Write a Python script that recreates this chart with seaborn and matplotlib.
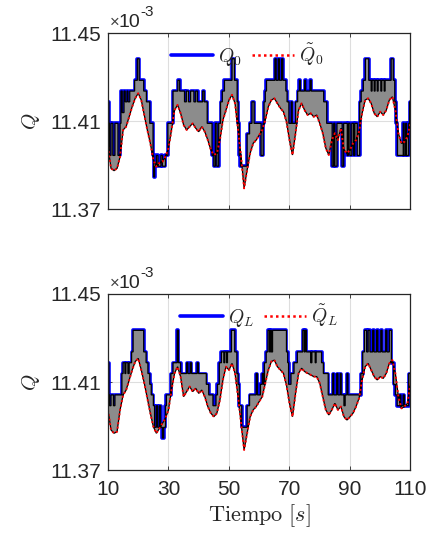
import numpy as np
import matplotlib
matplotlib.use("Agg")
import matplotlib.pyplot as plt
import seaborn as sns

# Quantised flow levels (units of 1e-3)
A, B, C, D = 11.4384, 11.4335, 11.4286, 11.4237
E, F, G, H = 11.4188, 11.4139, 11.4090, 11.4042
I, J, K, L = 11.3993, 11.3944, 11.3895, 11.3846

# Measured flow Q_0: switching instants [s] and held levels
q0_t = [10.0, 10.3, 10.5, 11.0, 11.6, 12.3, 13.3, 14.0, 14.3, 14.7, 15.3, 15.7, 16.3, 16.6,
        17.2, 18.8, 19.7, 20.3, 21.8, 22.7, 23.8, 24.9, 25.1, 25.4, 26.0, 26.5, 27.5, 28.0,
        29.0, 29.8, 31.5, 33.1, 33.7, 35.3, 35.9, 36.6, 37.3, 38.4, 39.0, 39.6, 41.3, 41.8,
        42.8, 44.4, 45.0, 45.5, 46.0, 46.6, 47.2, 47.8, 48.5, 51.0, 51.8, 52.7, 53.0, 53.4,
        53.8, 56.0, 56.8, 57.6, 58.3, 59.3, 60.6, 61.3, 61.6, 62.0, 62.4, 65.2, 65.6, 66.3,
        66.7, 67.4, 67.8, 68.8, 69.2, 69.8, 70.6, 70.9, 72.0, 72.7, 73.3, 73.6, 75.0, 75.3,
        76.8, 77.2, 81.3, 82.3, 84.1, 84.6, 85.0, 85.7, 87.4, 87.9, 89.1, 89.5, 90.0, 90.6,
        91.2, 91.6, 92.4, 93.2, 93.7, 94.4, 95.1, 96.2, 97.0, 97.3, 98.0, 98.3, 99.0, 99.3,
        100.2, 100.5, 101.3, 101.6, 103.6, 104.3, 104.8, 105.2, 105.7, 107.6, 107.9, 108.4,
        108.7, 109.4, 109.7, 110.0]
q0_v = [E, G, J, G, J, G, J, G, D, F, D, E, D, E,
        D, C, A, C, D, E, G, J, L, K, J, K, J, K,
        J, G, D, C, D, E, D, E, D, E, D, E, D, E,
        G, J, K, G, K, G, E, D, C, A, C, E, G, J,
        K, H, G, E, G, G, J, G, E, D, C, A, C, A,
        C, A, C, D, E, G, E, G, E, D, C, D, C, D,
        C, D, E, G, K, G, K, G, K, G, J, G, J, G,
        J, G, J, E, D, C, A, C, D, C, D, C, D, C,
        D, C, D, C, A, C, E, G, J, G, J, G,
        J, G, E, E]

# Estimated flow ~Q_0, one sample per second from 10 s to 110 s
q0_est = [11.3984, 11.3885, 11.3875, 11.3885, 11.3938, 11.4060, 11.4075, 11.4120, 11.4166, 11.4204,
          11.4227, 11.4196, 11.4128, 11.4060, 11.3999, 11.3923, 11.3893, 11.3910, 11.3915, 11.3939,
          11.3977, 11.4060, 11.4150, 11.4174, 11.4136, 11.4083, 11.4060, 11.4075, 11.4090, 11.4068,
          11.4052, 11.4075, 11.4052, 11.4014, 11.3969, 11.3946, 11.3954, 11.4014, 11.4105, 11.4150,
          11.4196, 11.4220, 11.4181, 11.4060, 11.3938, 11.3794, 11.3878, 11.3954, 11.3999, 11.4014,
          11.4037, 11.4060, 11.4105, 11.4166, 11.4196, 11.4204, 11.4181, 11.4159, 11.4143, 11.4098,
          11.4014, 11.3946, 11.4045, 11.4150, 11.4181, 11.4150, 11.4128, 11.4136, 11.4120, 11.4128,
          11.4090, 11.4045, 11.3977, 11.3946, 11.4014, 11.4045, 11.4014, 11.4068, 11.3969, 11.3954,
          11.3969, 11.3999, 11.4014, 11.4052, 11.4136, 11.4196, 11.4204, 11.4181, 11.4136, 11.4120,
          11.4143, 11.4128, 11.4150, 11.4196, 11.4211, 11.4150, 11.4045, 11.3999, 11.4006, 11.4030,
          11.4090]

# Measured flow Q_L: switching instants [s] and held levels
ql_t = [10.0, 10.3, 10.5, 11.0, 11.8, 12.3, 14.6, 15.0, 15.6, 15.9, 16.6, 17.0, 17.8, 18.3,
        21.8, 22.6, 23.2, 23.8, 24.3, 25.0, 25.4, 26.0, 26.4, 27.0, 27.4, 28.0, 28.4, 29.0,
        29.3, 30.8, 31.5, 32.9, 33.3, 34.0, 36.0, 36.4, 37.2, 37.6, 39.5, 39.9, 42.5, 43.3,
        44.7, 45.7, 46.2, 46.8, 47.5, 48.3, 48.6, 49.2, 49.5, 50.8, 51.9, 52.6, 53.0, 53.4,
        54.2, 56.0, 56.8, 59.0, 59.4, 60.4, 61.0, 61.4, 61.7, 62.3, 62.9, 63.4, 63.7, 64.0,
        64.4, 69.0, 69.4, 69.7, 70.5, 71.5, 72.6, 74.4, 74.9, 75.2, 75.6, 77.0, 77.4, 78.5,
        78.8, 80.6, 81.2, 82.8, 84.3, 84.6, 85.6, 86.0, 86.8, 87.1, 88.0, 88.4, 89.0, 89.3,
        93.6, 94.2, 94.8, 95.5, 96.0, 96.6, 97.5, 97.9, 98.8, 99.2, 100.2, 100.6, 101.8, 102.2,
        103.0, 103.7, 104.4, 105.0, 105.6, 106.4, 106.8, 107.6, 108.0, 109.4, 110.0]
ql_v = [E, H, I, H, I, H, F, E, F, E, F, E, D, B,
        D, E, F, G, H, I, K, I, K, I, K, L, K, I,
        H, F, E, B, E, F, E, F, E, F, E, F, G, H,
        I, H, G, E, D, E, D, E, D, B, D, F, G, I,
        K, I, H, F, H, G, F, G, E, D, B, D, B, D,
        B, D, E, G, F, E, D, B, D, B, D, E, D, E,
        D, E, F, H, F, H, F, H, F, H, I, H, F, H,
        F, D, B, D, B, D, B, D, B, D, B, D, B, D,
        B, E, G, H, I, H, I, H, I, F, F]

# Estimated flow ~Q_L, one sample per second from 10 s to 110 s
ql_est = [11.3974, 11.3883, 11.3868, 11.3875, 11.3974, 11.4042, 11.4064, 11.4109, 11.4155, 11.4193,
          11.4208, 11.4155, 11.4095, 11.4027, 11.3959, 11.3898, 11.3868, 11.3890, 11.3913, 11.3936,
          11.3974, 11.4064, 11.4140, 11.4170, 11.4125, 11.4034, 11.4057, 11.4080, 11.4057, 11.4072,
          11.4049, 11.4064, 11.4034, 11.3989, 11.3959, 11.3943, 11.3959, 11.4019, 11.4110, 11.4170,
          11.4155, 11.4185, 11.4140, 11.4034, 11.3913, 11.3792, 11.3868, 11.3943, 11.3974, 11.3989,
          11.4012, 11.4034, 11.4095, 11.4155, 11.4193, 11.4200, 11.4170, 11.4155, 11.4140, 11.4087,
          11.4004, 11.3943, 11.4049, 11.4140, 11.4163, 11.4148, 11.4140, 11.4133, 11.4125, 11.4125,
          11.4095, 11.4034, 11.3974, 11.3951, 11.3974, 11.4004, 11.3974, 11.3989, 11.3943, 11.3928,
          11.3943, 11.3959, 11.3989, 11.4027, 11.4110, 11.4170, 11.4185, 11.4155, 11.4125, 11.4110,
          11.4125, 11.4117, 11.4140, 11.4185, 11.4200, 11.4140, 11.4034, 11.3981, 11.3989, 11.4004,
          11.4095]

tiempo = np.arange(10, 111)
x_ticks = [10, 30, 50, 70, 90, 110]
y_ticks = [11.37, 11.41, 11.45]
y_tick_labels = ["11.37", "11.41", "11.45"]

sns.set_theme(style="whitegrid")
plt.rcParams["font.family"] = ["Liberation Sans", "DejaVu Sans"]
plt.rcParams["mathtext.fontset"] = "cm"

fig = plt.figure(figsize=(4.28, 5.39), dpi=100)
ax_top = fig.add_axes([0.2523, 0.6122, 0.7068, 0.3260])
ax_bot = fig.add_axes([0.2523, 0.1275, 0.7068, 0.3271])


def step_outline(ts, vs):
    xs, ys = [], []
    for k in range(len(ts) - 1):
        xs += [ts[k], ts[k + 1]]
        ys += [vs[k], vs[k]]
    return np.array(xs), np.array(ys)


def panel(ax, ts, vs, est, lab_meas, lab_est, leg_x):
    xs, ys = step_outline(ts, vs)
    sns.lineplot(x=xs, y=ys, ax=ax, color="#0000ff", linewidth=2.6, sort=False,
                 estimator=None, label=lab_meas, zorder=2)
    poly_x = np.concatenate([xs, tiempo[::-1]])
    poly_y = np.concatenate([ys, np.array(est)[::-1]])
    ax.fill(poly_x, poly_y, facecolor="#8c8c8c", edgecolor="black", linewidth=0.9, zorder=3)
    sns.lineplot(x=tiempo, y=est, ax=ax, color="#ff0000", linewidth=1.4,
                 linestyle=(0, (1, 1.3)), label=lab_est, zorder=4)

    ax.set_xlim(10, 110)
    ax.set_ylim(11.37, 11.45)
    ax.set_xticks(x_ticks)
    ax.set_yticks(y_ticks)
    ax.set_yticklabels(y_tick_labels)
    ax.grid(True, color="#dedede", linewidth=0.8)
    ax.set_facecolor("white")
    for sp in ax.spines.values():
        sp.set_color("#262626")
        sp.set_linewidth(0.9)
        sp.set_zorder(6)
    ax.tick_params(direction="in", length=3, width=0.6, colors="#262626",
                   labelsize=15, pad=5, top=True, right=True, bottom=True, left=True)
    ax.set_ylabel(r"$Q$", fontsize=15, labelpad=6, color="#262626")

    # exponent marker above the y axis
    ax.text(0.006, 1.034, "\u00d7", transform=ax.transAxes, fontsize=12,
            color="#404040", ha="left", va="baseline")
    ax.text(0.036, 1.034, "10", transform=ax.transAxes, fontsize=14,
            color="#262626", ha="left", va="baseline")
    ax.text(0.106, 1.098, "-3", transform=ax.transAxes, fontsize=11,
            color="#262626", ha="left", va="baseline")

    leg = ax.legend(loc="upper center", bbox_to_anchor=(leg_x, 1.02), ncol=2, frameon=False,
                    fontsize=14, handlelength=2.2, handletextpad=0.25, columnspacing=0.5,
                    borderaxespad=0.2)
    for ln in leg.get_lines():
        ln.set_linewidth(2.6 if ln.get_color() == "#0000ff" else 1.8)


panel(ax_top, q0_t, q0_v, q0_est, r"$Q_0$", r"$\tilde{Q}_0$", 0.46)
panel(ax_bot, ql_t, ql_v, ql_est, r"$Q_L$", r"$\tilde{Q}_L$", 0.50)

ax_top.set_xticklabels([])
ax_top.set_xlabel("")
ax_bot.set_xlabel(r"$\mathrm{Tiempo}\ [s]$", fontsize=16, labelpad=2, color="#262626")
ax_bot.tick_params(axis="x", pad=7)

fig.savefig("out.png", dpi=100)
